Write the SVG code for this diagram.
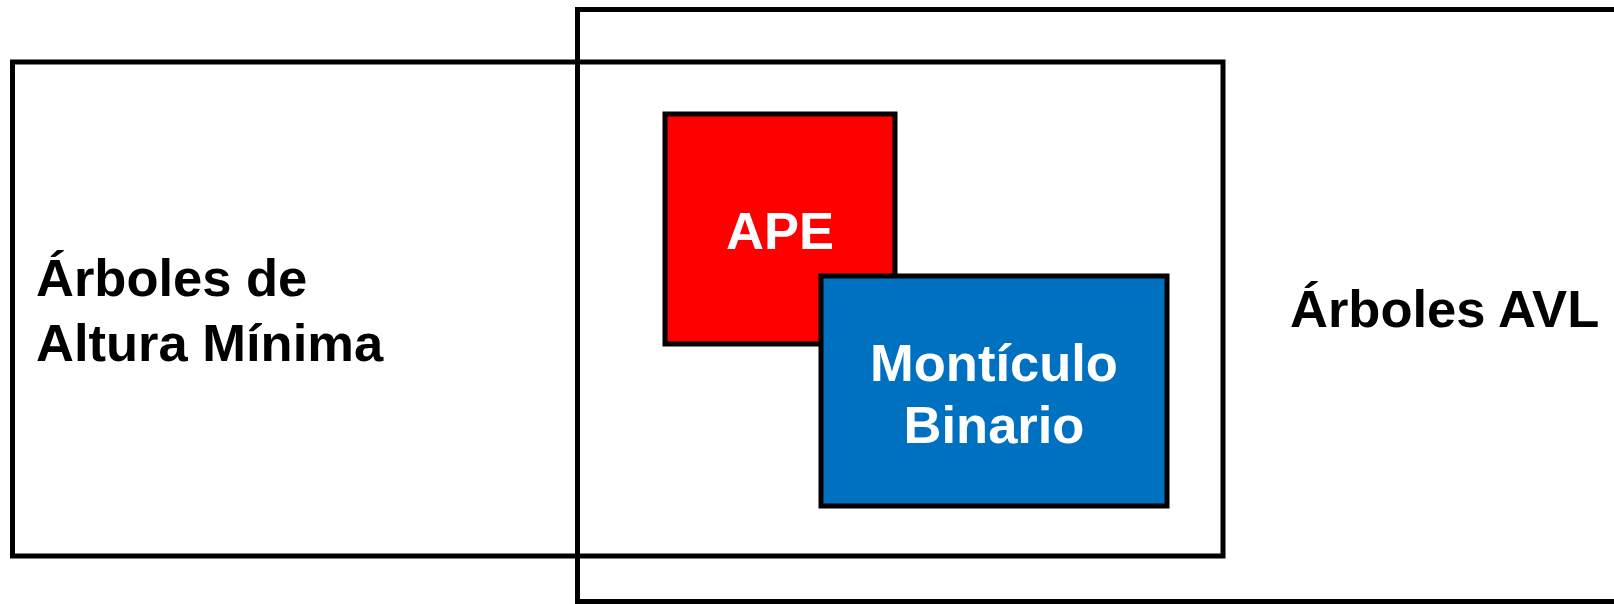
<svg xmlns="http://www.w3.org/2000/svg" width="1614" height="604" viewBox="0 0 1614 604">
<style>
.frame{fill:none;stroke:#000;stroke-width:5}
.box{stroke:#000;stroke-width:5}
.t{font-family:"Liberation Sans",Arial,sans-serif;font-weight:bold;font-size:52.5px}
.dark{fill:#000}
.light{fill:#fff}
</style>
<rect width="1614" height="604" fill="#fff"/>
<g id="avl">
<rect class="frame" x="577.5" y="9.5" width="1100" height="592"/>
<text class="t dark" x="1290" y="327">Árboles AVL</text>
</g>
<g id="altura-minima">
<rect class="frame" x="12.5" y="62" width="1210.5" height="494"/>
<text class="t dark" x="36" y="296">Árboles de</text>
<text class="t dark" x="36" y="361">Altura Mínima</text>
</g>
<g id="ape">
<rect class="box" x="665" y="114" width="230" height="230" fill="#FF0000"/>
<text class="t light" x="780" y="249" text-anchor="middle">APE</text>
</g>
<g id="monticulo">
<rect class="box" x="821" y="276" width="346" height="230" fill="#0070C0"/>
<text class="t light" x="994" y="381" text-anchor="middle">Montículo</text>
<text class="t light" x="994" y="443" text-anchor="middle">Binario</text>
</g>
<g id="connectors"></g>
</svg>
